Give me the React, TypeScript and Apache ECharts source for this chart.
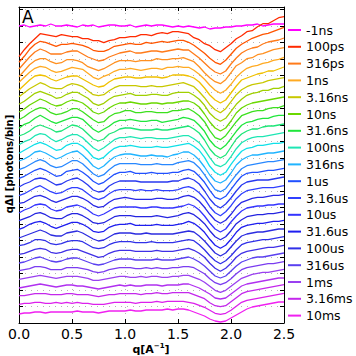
import React, { useEffect, useRef } from 'react';
import * as echarts from 'echarts';

const FONT = 'DejaVu Sans';

// q grid (Å^-1)
const qValues = [0, 0.05, 0.1, 0.15, 0.2, 0.25, 0.3, 0.35, 0.4, 0.45, 0.5, 0.55, 0.6, 0.65, 0.7, 0.75, 0.8, 0.85, 0.9, 0.95, 1.0, 1.05, 1.1, 1.15, 1.2, 1.25, 1.3, 1.35, 1.4, 1.45, 1.5, 1.55, 1.6, 1.65, 1.7, 1.75, 1.8, 1.85, 1.9, 1.95, 2.0, 2.05, 2.1, 2.15, 2.2, 2.25, 2.3, 2.35, 2.4, 2.45, 2.5];

const timeNames = ['-1ns', '100ps', '178ps', '316ps', '562ps', '1ns', '1.78ns', '3.16ns', '5.62ns', '10ns', '17.8ns', '31.6ns', '56.2ns', '100ns', '178ns', '316ns', '562ns', '1us', '1.78us', '3.16us', '5.62us', '10us', '17.8us', '31.6us', '56.2us', '100us', '178us', '316us', '562us', '1ms', '1.78ms', '3.16ms', '5.62ms', '10ms'];

const legendNames = ['-1ns', '100ps', '316ps', '1ns', '3.16ns', '10ns', '31.6ns', '100ns', '316ns', '1us', '3.16us', '10us', '31.6us', '100us', '316us', '1ms', '3.16ms', '10ms'];

// vertical offsets used to stack the curves
const offsets = [297, 288.3, 279.7, 271, 262.3, 253.7, 245, 236.3, 227.7, 219, 210.3, 201.7, 193, 184.3, 175.7, 167, 158.3, 149.7, 141, 132.3, 123.7, 115, 106.3, 97.7, 89, 80.3, 71.7, 63, 54.3, 45.7, 37, 28.3, 19.7, 11];

const colors = ['#ff00ff', '#ff2a00', '#ff5500', '#ff7b1a', '#ff9020', '#ffaa22', '#f0c000', '#c8c800', '#a0d000', '#6ad800', '#3ce01e', '#20e63c', '#1ee678', '#1ee6b4', '#10e0e8', '#20b4ff', '#2888ff', '#2050ff', '#2838f0', '#3040ff', '#2828e6', '#3434ff', '#2424e0', '#1e1ef0', '#2c2ce0', '#3030e8', '#4030e6', '#5a40f0', '#7a3cf0', '#9a40f0', '#b030f0', '#c428ec', '#dc20ec', '#f020f0'];

// qΔI curves (relative to each offset)
const d_m1ns = [0, 1, -1, 0, 1, 0, 2, 0, 0, 1, 0, -1, 1, 0, 1, -1, 0, 1, 1, 0, 0, 1, -1, 0, 1, 0, 1, 1, 0, -1, 0, -1, 0, -1, -2, -1, -3, -2, -2, -1, -1, 0, 0, 1, 1, 2, 0, 1, 2, 2, 2];
const d_100ps = [-22, -15, -9, -4, 1, 0, -1, -2, 0, -1, -2, -2, -4, -4, -6, -6, -8, -6, -5, -3, -3, -2, -2, 0, 0, -1, 1, 2, 1, 3, 3, 2, 1, -3, -5, -9, -11, -15, -17, -13, -9, -4, -1, 3, 4, 8, 11, 11, 14, 17, 18];
const d_178ps = [-19, -13, -6, -1, 2, 1, -1, -3, -1, -1, 0, -1, -2, -4, -7, -8, -8, -6, -3, -2, -1, 0, -1, -1, 1, 0, 1, 2, 1, 2, 3, 3, 1, -2, -6, -10, -15, -19, -21, -17, -11, -5, -1, 2, 5, 7, 9, 10, 12, 14, 16];
const d_316ps = [-17, -11, -5, 0, 3, 1, -2, -2, -2, 0, 1, 1, -2, -5, -7, -9, -8, -5, -3, -1, 0, 1, -1, -1, 0, 1, 1, 0, 1, 2, 3, 2, 2, -2, -6, -11, -16, -20, -22, -19, -12, -6, -1, 2, 4, 5, 8, 10, 11, 12, 14];
const d_562ps = [-16, -10, -4, 0, 2, 2, -1, -3, -2, 1, 1, 0, -2, -6, -8, -10, -8, -5, -2, 0, 0, 0, -1, 0, 0, 0, 2, 1, 1, 2, 2, 3, 1, -1, -6, -12, -17, -21, -23, -19, -12, -5, -2, 2, 3, 6, 7, 9, 11, 12, 13];
const d_1ns = [-13, -8, -3, 1, 3, 2, -1, -3, -2, 0, 2, 1, 0, -4, -8, -10, -7, -5, -2, 0, 0, 1, 0, -1, 0, 1, 1, 0, 2, 2, 3, 2, 2, -1, -5, -10, -16, -21, -24, -21, -15, -8, -3, 1, 3, 4, 6, 7, 9, 10, 12];
const d_1_78ns = [-12, -7, -2, 2, 3, 2, -1, -3, -1, 1, 2, 2, -1, -4, -7, -9, -8, -4, -1, 0, 1, 1, 0, 0, 1, 1, 1, 0, 1, 3, 3, 3, 2, 0, -4, -10, -17, -22, -25, -22, -15, -8, -2, 0, 2, 4, 5, 7, 7, 9, 11];
const d_3_16ns = [-10, -6, -2, 1, 4, 2, -1, -2, -2, 1, 3, 2, 0, -4, -8, -9, -8, -4, -1, 1, 1, 1, 1, 0, 0, 1, 0, 0, 1, 2, 3, 4, 2, 0, -5, -11, -18, -23, -26, -22, -15, -8, -3, 0, 2, 3, 4, 6, 7, 8, 9];
const d_5_62ns = [-9, -6, -2, 2, 4, 2, 0, -3, -2, 1, 3, 3, 0, -3, -8, -10, -8, -4, -1, 0, 1, 2, 0, 0, 0, 1, 1, 0, 0, 2, 3, 3, 3, 0, -4, -10, -18, -23, -26, -23, -16, -9, -4, 0, 2, 3, 5, 5, 7, 7, 9];
const d_10ns = [-8, -5, -1, 2, 5, 3, 0, -2, -1, 2, 4, 3, 1, -3, -8, -10, -8, -4, -1, 1, 1, 2, 1, 0, 0, 1, 1, 0, 1, 1, 2, 3, 3, 1, -3, -10, -18, -24, -27, -24, -17, -9, -4, -1, 1, 2, 3, 4, 5, 6, 7];
const d_17_8ns = [-7, -4, 0, 3, 5, 4, 0, -2, -1, 1, 4, 4, 1, -3, -7, -10, -9, -4, -1, 0, 2, 2, 0, 0, 1, 1, 0, 0, 0, 2, 2, 3, 4, 1, -3, -9, -18, -25, -27, -23, -16, -9, -3, -1, 1, 2, 2, 4, 5, 5, 7];
const d_31_6ns = [-7, -3, -1, 3, 6, 3, 0, -2, 0, 2, 4, 4, 2, -3, -8, -11, -8, -5, -1, 1, 1, 2, 1, 0, 0, 1, 1, -1, 0, 1, 2, 4, 3, 1, -4, -10, -19, -25, -28, -24, -17, -10, -4, -1, 0, 2, 3, 3, 5, 6, 6];
const d_56_2ns = [-6, -4, -1, 3, 5, 3, 1, -2, -1, 2, 5, 4, 1, -4, -9, -11, -9, -4, -2, 1, 2, 2, 1, 0, 0, 0, 1, 0, 0, 1, 2, 3, 4, 1, -3, -10, -19, -25, -28, -25, -17, -9, -4, -1, 1, 1, 3, 4, 4, 5, 6];
const d_100ns = [-6, -3, -1, 3, 5, 4, 0, -3, -1, 2, 4, 4, 1, -4, -9, -12, -9, -5, -1, 1, 1, 2, 1, 0, 1, 1, 0, 0, 0, 1, 2, 3, 3, 0, -4, -11, -19, -26, -28, -25, -18, -10, -4, -1, 1, 2, 2, 3, 4, 5, 6];
const d_178ns = [-6, -3, 0, 3, 5, 3, 0, -3, -2, 2, 4, 4, 1, -4, -10, -12, -10, -5, -1, 1, 1, 2, 1, 0, 0, 0, 1, 0, 0, 1, 2, 3, 4, 1, -3, -10, -19, -25, -28, -25, -17, -10, -4, -1, 0, 2, 2, 3, 4, 4, 5];
const d_316ns = [-5, -3, 0, 4, 5, 3, 0, -3, -1, 2, 4, 5, 1, -4, -10, -13, -10, -5, -1, 1, 2, 2, 1, 0, 0, 1, 0, 0, -1, 1, 2, 4, 4, 1, -4, -11, -19, -25, -27, -24, -17, -9, -4, -1, 1, 1, 2, 3, 3, 4, 5];
const d_562ns = [-5, -3, 0, 3, 5, 3, -1, -3, -2, 1, 4, 4, 1, -4, -9, -12, -10, -5, -1, 1, 1, 1, 1, 0, 0, 0, 1, 0, 0, 0, 2, 3, 4, 2, -3, -10, -18, -25, -27, -24, -17, -10, -4, -1, 0, 1, 2, 3, 3, 4, 5];
const d_1us = [-5, -3, 0, 3, 5, 3, 0, -3, -2, 2, 3, 4, 1, -3, -8, -11, -9, -5, -1, 1, 1, 2, 0, 0, 0, 1, 0, 0, 0, 1, 1, 3, 4, 2, -3, -9, -17, -24, -26, -23, -16, -9, -3, 0, 1, 1, 2, 3, 3, 4, 5];
const d_1_78us = [-5, -2, 0, 3, 4, 3, 0, -3, -2, 1, 3, 4, 1, -3, -8, -10, -9, -4, -1, 1, 1, 1, 1, 0, 0, 0, 0, 0, 0, 1, 1, 3, 4, 2, -2, -9, -17, -23, -26, -22, -16, -9, -3, 0, 1, 2, 2, 2, 3, 4, 5];
const d_3_16us = [-5, -3, 0, 3, 5, 2, -1, -3, -2, 1, 3, 3, 1, -3, -7, -9, -7, -3, 0, 1, 1, 1, 0, 1, 0, 0, 1, 0, 0, 0, 1, 3, 4, 2, -2, -8, -16, -22, -25, -21, -15, -8, -3, 0, 1, 2, 3, 3, 3, 4, 5];
const d_5_62us = [-4, -3, 0, 3, 4, 2, -1, -3, -1, 1, 3, 3, 1, -2, -6, -8, -7, -3, 0, 1, 2, 1, 0, 0, 0, 0, 1, 1, 0, 0, 1, 3, 4, 2, -2, -8, -15, -21, -24, -21, -15, -8, -3, -1, 1, 2, 2, 3, 4, 4, 5];
const d_10us = [-5, -2, 0, 3, 4, 3, -1, -3, -2, 1, 2, 3, 1, -2, -6, -8, -6, -3, 0, 1, 1, 1, 1, 0, 0, 1, 1, 0, 0, 0, 1, 2, 4, 2, -2, -8, -15, -21, -24, -21, -14, -8, -3, 0, 1, 2, 2, 3, 3, 4, 4];
const d_17_8us = [-4, -2, 0, 3, 4, 2, -1, -2, -2, 1, 3, 3, 1, -2, -6, -7, -6, -3, 0, 1, 1, 1, 0, 0, 0, 0, 1, 0, -1, 0, 1, 3, 4, 2, -2, -7, -14, -20, -23, -20, -14, -7, -3, 0, 1, 2, 2, 3, 3, 4, 5];
const d_31_6us = [-4, -2, 1, 3, 4, 2, -1, -3, -1, 1, 3, 3, 1, -2, -6, -7, -6, -2, 0, 1, 1, 2, 0, 0, 0, 0, 1, 0, 0, 0, 1, 2, 4, 2, -2, -7, -14, -20, -23, -20, -14, -7, -2, 0, 1, 2, 2, 3, 4, 4, 5];
const d_56_2us = [-4, -2, 0, 2, 4, 2, -1, -2, -2, 1, 2, 3, 1, -2, -5, -7, -6, -3, 0, 1, 1, 1, 0, 0, 1, 0, 0, 0, 0, 0, 1, 2, 3, 2, -2, -7, -13, -19, -22, -19, -13, -7, -2, 0, 1, 2, 2, 3, 4, 5, 5];
const d_100us = [-3, -2, 0, 3, 3, 2, -1, -2, -1, 1, 2, 2, 1, -2, -5, -6, -5, -2, 0, 1, 1, 1, 0, 0, 0, 1, 0, 0, 0, 0, 1, 2, 3, 2, -2, -7, -13, -18, -21, -18, -13, -7, -2, 0, 1, 2, 3, 3, 4, 5, 6];
const d_178us = [-3, -2, 0, 2, 3, 2, -1, -2, -1, 1, 2, 2, 0, -2, -4, -6, -5, -2, 0, 1, 1, 1, 0, 0, 0, 0, 1, 0, 0, 0, 1, 2, 3, 1, -2, -6, -12, -17, -20, -17, -12, -6, -2, 0, 1, 2, 3, 4, 4, 5, 6];
const d_316us = [-3, -2, 0, 2, 3, 1, -1, -2, -1, 1, 2, 2, 0, -2, -4, -5, -4, -2, 0, 1, 1, 1, 0, 0, 0, 0, 1, 0, 0, 0, 1, 2, 3, 1, -2, -6, -11, -16, -18, -16, -11, -6, -2, 0, 2, 3, 3, 4, 5, 6, 7];
const d_562us = [-2, -1, 0, 2, 2, 1, -1, -1, -1, 1, 1, 1, 0, -1, -3, -4, -3, -1, 0, 1, 1, 1, 0, 0, 1, 0, 1, 0, 0, 1, 1, 2, 2, 1, -2, -5, -10, -14, -16, -14, -10, -5, -1, 1, 2, 3, 4, 5, 5, 6, 7];
const d_1ms = [-2, -1, 0, 1, 2, 1, 0, -1, 0, 1, 1, 1, 0, -1, -3, -3, -2, -1, 0, 1, 1, 0, 0, 1, 0, 1, 1, 0, 0, 1, 1, 2, 2, 0, -2, -5, -9, -13, -15, -13, -9, -5, -1, 1, 3, 4, 5, 5, 6, 7, 8];
const d_1_78ms = [-2, -1, 0, 1, 2, 1, 0, -1, 0, 1, 1, 0, 0, -1, -2, -3, -2, -1, 0, 1, 0, 1, 0, 0, 1, 1, 1, 0, 1, 1, 1, 2, 2, 0, -2, -5, -8, -12, -13, -12, -8, -4, 0, 2, 3, 4, 5, 6, 7, 8, 8];
const d_3_16ms = [-1, -1, 0, 1, 1, 1, 0, 0, 0, 1, 1, 0, 0, 0, -1, -2, -1, 0, 0, 1, 1, 1, 1, 0, 1, 1, 2, 1, 1, 2, 2, 2, 2, 0, -2, -4, -8, -11, -12, -11, -7, -3, 1, 3, 4, 5, 6, 7, 8, 9, 10];
const d_5_62ms = [-1, 0, 0, 1, 1, 0, 0, 1, 0, 1, 0, 1, 0, 0, -1, -1, -1, 0, 1, 1, 1, 1, 0, 1, 1, 1, 2, 1, 2, 2, 2, 2, 1, 0, -2, -4, -7, -10, -11, -10, -7, -3, 1, 3, 4, 5, 6, 7, 8, 9, 10];
const d_10ms = [-2, -1, -1, 0, 0, -1, 0, 0, 0, 0, 0, 1, 0, 0, 0, -1, 0, 1, 1, 1, 1, 2, 1, 1, 2, 2, 2, 2, 3, 2, 3, 3, 2, 0, -2, -4, -7, -9, -10, -9, -6, -3, 0, 3, 5, 6, 7, 8, 9, 10, 10];

const curves = [d_m1ns, d_100ps, d_178ps, d_316ps, d_562ps, d_1ns, d_1_78ns, d_3_16ns, d_5_62ns, d_10ns, d_17_8ns, d_31_6ns, d_56_2ns, d_100ns, d_178ns, d_316ns, d_562ns, d_1us, d_1_78us, d_3_16us, d_5_62us, d_10us, d_17_8us, d_31_6us, d_56_2us, d_100us, d_178us, d_316us, d_562us, d_1ms, d_1_78ms, d_3_16ms, d_5_62ms, d_10ms];

const xTicks = [0, 0.5, 1.0, 1.5, 2.0, 2.5];

export default function App() {
  const ref = useRef<HTMLDivElement>(null);
  useEffect(() => {
    if (!ref.current) return;
    const chart = echarts.init(ref.current, null, { renderer: 'svg' });
    const gridLine = { show: true, lineStyle: { color: '#b4b4b4', type: [1, 5] as any, width: 1 } };
    const series = curves.map((c, k) => ({
      name: timeNames[k],
      type: 'line',
      xAxisIndex: 0,
      yAxisIndex: 0,
      showSymbol: false,
      symbol: 'none',
      silent: true,
      lineStyle: { width: 1.3, color: colors[k] },
      itemStyle: { color: colors[k] },
      data: qValues.map((q, i) => [q, c[i] + offsets[k]]),
    }));
    chart.setOption({
      animation: false,
      backgroundColor: '#ffffff',
      grid: { left: 19, top: 7, right: 72, bottom: 33 },
      xAxis: [
        {
          type: 'value', min: xTicks[0], max: xTicks[xTicks.length - 1], interval: 0.5,
          axisLine: { show: true, onZero: false, lineStyle: { color: '#000', width: 1 } },
          axisTick: { show: true, inside: true, length: 4, lineStyle: { color: '#000' } },
          axisLabel: { show: true, color: '#000', fontFamily: FONT, fontSize: 14, margin: 4, lineHeight: 14, formatter: (v: number) => v.toFixed(1) },
          splitLine: gridLine,
        },
        {
          type: 'value', position: 'top', min: 0, max: 2.5, interval: 0.5,
          axisLine: { show: true, onZero: false, lineStyle: { color: '#000', width: 1 } },
          axisTick: { show: true, inside: true, length: 4, lineStyle: { color: '#000' } },
          axisLabel: { show: false },
          splitLine: { show: false },
        },
      ],
      yAxis: [
        {
          type: 'value', min: 0, max: 316, interval: 16.5,
          axisLine: { show: true, onZero: false, lineStyle: { color: '#000', width: 1 } },
          axisTick: { show: true, inside: true, length: 4, lineStyle: { color: '#000' } },
          axisLabel: { show: false },
          splitLine: gridLine,
        },
        {
          type: 'value', position: 'right', min: 0, max: 316, interval: 16.5,
          axisLine: { show: true, onZero: false, lineStyle: { color: '#000', width: 1 } },
          axisTick: { show: true, inside: true, length: 4, lineStyle: { color: '#000' } },
          axisLabel: { show: false },
          splitLine: { show: false },
        },
      ],
      legend: {
        data: legendNames,
        orient: 'vertical',
        left: 288,
        top: 23,
        padding: 0,
        itemWidth: 13,
        itemHeight: 2,
        itemGap: 2.8,
        icon: 'rect',
        itemStyle: { borderWidth: 0 },
        lineStyle: { width: 0 },
        textStyle: { fontFamily: FONT, fontSize: 12.5, color: '#000', lineHeight: 14 },
        selectedMode: false,
      },
      graphic: [
        { type: 'text', left: 22, top: 8, style: { text: 'A', fontFamily: FONT, fontSize: 17, fill: '#000' } },
        {
          type: 'text', x: 151, y: 349,
          style: {
            text: '{a|q[A}{s|−1}{a|]}',
            align: 'center', verticalAlign: 'middle',
            rich: {
              a: { fontFamily: FONT, fontSize: 11, fontWeight: 'bold', fill: '#000', lineHeight: 13 },
              s: { fontFamily: FONT, fontSize: 7, fontWeight: 'bold', fill: '#000', lineHeight: 13, verticalAlign: 'top' },
            },
          },
        },
        {
          type: 'text', x: 9, y: 164, rotation: Math.PI / 2,
          style: { text: 'qΔI [photons/bin]', fontFamily: FONT, fontSize: 10, fontWeight: 'bold', fill: '#000', align: 'center', verticalAlign: 'middle' },
        },
      ],
      series,
    });
    return () => chart.dispose();
  }, []);
  return <div ref={ref} style={{ position: 'fixed', left: 0, top: 0, width: 356, height: 356, background: '#fff' }} />;
}
